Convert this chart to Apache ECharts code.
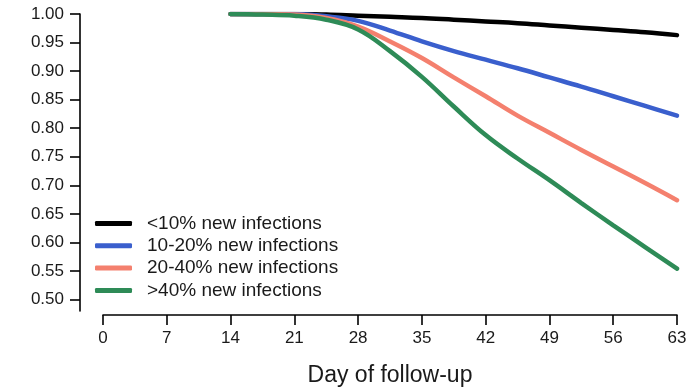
<!DOCTYPE html>
<html><head><meta charset="utf-8">
<script src="https://cdn.jsdelivr.net/npm/echarts@6/dist/echarts.min.js"></script>
<style>html,body{margin:0;padding:0;background:#fff}#c{width:687px;height:387px}</style>
</head><body><div id="c"></div>
<script>
const days = [14, 17.5, 21, 24.5, 28, 31.5, 35, 38.5, 42, 45.5, 49, 52.5, 56, 59.5, 63];
const lt10 = [1.000, 1.000, 1.000, 0.999, 0.997, 0.995, 0.993, 0.990, 0.987, 0.984, 0.980, 0.976, 0.972, 0.968, 0.963];
const p10_20 = [1.000, 1.000, 1.000, 0.996, 0.988, 0.971, 0.952, 0.935, 0.920, 0.905, 0.889, 0.873, 0.856, 0.839, 0.822];
const p20_40 = [1.000, 1.000, 0.999, 0.993, 0.978, 0.952, 0.923, 0.889, 0.856, 0.822, 0.792, 0.762, 0.733, 0.704, 0.674];
const gt40 = [1.000, 0.999, 0.997, 0.990, 0.973, 0.935, 0.890, 0.838, 0.788, 0.747, 0.709, 0.669, 0.630, 0.592, 0.554];
const seriesNames = ['<10% new infections', '10-20% new infections', '20-40% new infections', '>40% new infections'];
const seriesColors = ['#000000', '#3a5fcd', '#f4806e', '#2e8b57'];
const yTicks = [0.50, 0.55, 0.60, 0.65, 0.70, 0.75, 0.80, 0.85, 0.90, 0.95, 1.00];
const xTicks = [0, 7, 14, 21, 28, 35, 42, 49, 56, 63];

const allData = [lt10, p10_20, p20_40, gt40];
const chart = echarts.init(document.getElementById('c'), null, {renderer: 'canvas'});
const font = '"Liberation Sans", Arial, sans-serif';
const Y_MIN = 0.48, Y_MAX = 1.0;
const axisLineStyle = {color: '#000', width: 1.6};
chart.setOption({
  animation: false,
  backgroundColor: '#fff',
  grid: [
    {left: 103, right: 10, top: 14, bottom: 76, outerBoundsMode: 'none', containLabel: false},
    {left: 80, width: 23, top: 14, bottom: 76, outerBoundsMode: 'none', containLabel: false},
    {left: 103, right: 10, top: 14, bottom: 72, outerBoundsMode: 'none', containLabel: false}
  ],
  legend: {
    orient: 'vertical', left: 90, top: 209, itemGap: 3.3,
    itemWidth: 37, itemHeight: 5, icon: 'roundRect',
    textStyle: {fontFamily: font, fontSize: 19, color: '#1a1a1a', padding: [0, 0, 0, 10]},
    data: seriesNames
  },
  xAxis: [
    {gridIndex: 0, type: 'value', min: 0, max: 63, show: false},
    {gridIndex: 1, type: 'value', min: 0, max: 1, show: false},
    {
      gridIndex: 2, type: 'value', min: 0, max: 63, interval: 7,
      axisLine: {show: true, lineStyle: axisLineStyle},
      axisTick: {show: true, length: 10, customValues: xTicks, lineStyle: axisLineStyle},
      axisLabel: {fontFamily: font, fontSize: 17, color: '#1a1a1a', margin: 15, customValues: xTicks},
      splitLine: {show: false},
      name: 'Day of follow-up', nameLocation: 'middle', nameGap: 49,
      nameTextStyle: {fontFamily: font, fontSize: 23, color: '#1a1a1a'}
    }
  ],
  yAxis: [
    {gridIndex: 0, type: 'value', min: Y_MIN, max: Y_MAX, show: false},
    {
      gridIndex: 1, type: 'value', min: Y_MIN, max: Y_MAX, position: 'left',
      axisLine: {show: true, lineStyle: axisLineStyle},
      axisTick: {show: true, length: 10, customValues: yTicks, lineStyle: axisLineStyle},
      axisLabel: {fontFamily: font, fontSize: 17, color: '#1a1a1a', margin: 16, customValues: yTicks,
        formatter: v => v.toFixed(2)},
      splitLine: {show: false}
    },
    {gridIndex: 2, type: 'value', min: Y_MIN, max: Y_MAX, show: false}
  ],
  series: seriesNames.map((n, i) => ({
    name: n, type: 'line', xAxisIndex: 0, yAxisIndex: 0,
    showSymbol: false, smooth: 0.4,
    color: seriesColors[i],
    lineStyle: {width: 4.5, color: seriesColors[i], cap: 'round'},
    data: days.map((d, j) => [d, allData[i][j]])
  }))
});
</script></body></html>
